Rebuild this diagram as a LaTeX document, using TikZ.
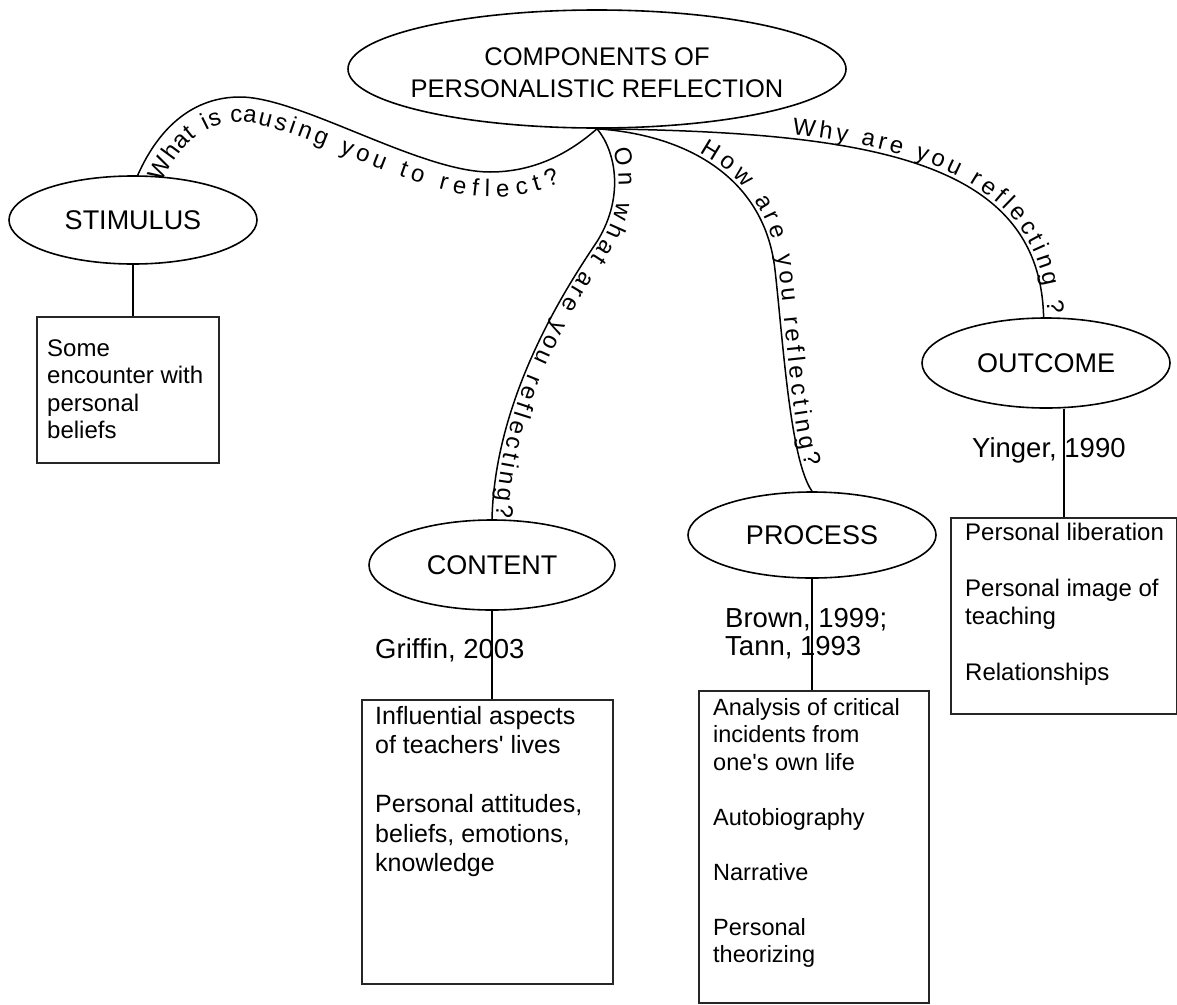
\documentclass[tikz,border=0pt]{standalone}
\usepackage{fontspec}
\setmainfont{Liberation Sans}
\usetikzlibrary{shapes.geometric,decorations.text}

\newcommand\fsz[2]{\fontsize{#1}{#2}\selectfont}
\newcommand\pathlbl{\fsz{24}{24}}

\begin{document}
\begin{tikzpicture}[x=1pt,y=-1pt,
  bubble/.style={ellipse, draw, line width=1.6pt, inner sep=0pt,
                 minimum width=248pt, minimum height=88pt, font=\fsz{27}{32}},
  panel/.style={draw=black!85, line width=1.8pt, inner sep=0pt, anchor=north west},
  note/.style={inner sep=0pt, align=left, anchor=north west},
  cite/.style={inner sep=0pt, align=left, font=\fsz{27.5}{28}},
  link/.style={line width=1.6pt},
  branch/.style={line width=1.5pt, postaction={decorate}},
]
\useasboundingbox (0,0) rectangle (1177,1004);

% central concept
\node[ellipse, draw, line width=1.6pt, inner sep=0pt,
      minimum width=498pt, minimum height=118pt] (top) at (597,69) {};
\node[inner sep=0pt, align=center, font=\fsz{25.5}{32}] (title) at (597,73)
  {COMPONENTS OF\\PERSONALISTIC REFLECTION};

% the four components
\node[bubble] (stim) at (133,220) {STIMULUS};
\node[bubble, minimum width=246pt, minimum height=90pt] (content) at (492,565) {CONTENT};
\node[bubble, minimum height=86pt] (process) at (812,535) {PROCESS};
\node[bubble, minimum height=90pt] (outcome) at (1046,363) {OUTCOME};

% detail panels
\node[panel, minimum width=182pt, minimum height=146pt] (sbox) at (36,316) {};
\node[panel, minimum width=251pt, minimum height=284pt] (cbox) at (361,699) {};
\node[panel, minimum width=230pt, minimum height=312pt] (pbox) at (698,690) {};
\node[panel, minimum width=226pt, minimum height=196pt] (obox) at (950,517) {};

% stems from components to panels
\draw[link] (stim.south) -- (stim.south |- sbox.north);
\draw[link] (content.south) -- (content.south |- cbox.north);
\draw[link] (process.south) -- (process.south |- pbox.north);
\draw[link] (obox.north) -- (obox.north |- outcome.south);

% references
\node[cite, anchor=base west] (griffin) at (375,658) {Griffin, 2003};
\node[cite, anchor=north west] (brown) at (725,608.3) {Brown, 1999;\\Tann, 1993};
\node[cite, anchor=base west] (yinger) at (972,457) {Yinger, 1990};

% panel texts
\node[note, font=\fsz{24}{27.5}] (stext) at (47,339.3)
  {Some\\encounter with\\personal\\beliefs};
\node[note, font=\fsz{25}{29.5}] (ctext) at (375,705.8)
  {Influential aspects\\of teachers\textquotesingle\ lives\\[29.5pt]Personal attitudes,\\beliefs, emotions,\\knowledge};
\node[note, font=\fsz{23.5}{27.5}] (ptext) at (713,697.8)
  {Analysis of critical\\incidents from\\one\textquotesingle s own life\\[27.5pt]Autobiography\\[27.5pt]Narrative\\[27.5pt]Personal\\theorizing};
\node[note, font=\fsz{24}{28}] (otext) at (965,522.5)
  {Personal liberation\\[28pt]Personal image of\\teaching\\[28pt]Relationships};

% labelled branches from the central concept
\draw[branch, decoration={text along path, raise=-25pt,
      text={|\pathlbl|What is causing you to reflect?},
      text align={left indent=5pt, right indent=55pt, fit to path}}]
  (stim.84) .. controls (160,125) and (195,97) .. (240,97)
            .. controls (300,97) and (420,172) .. (490,172)
            .. controls (540,172) and (575,148) .. (top.south);

\draw[branch, decoration={text along path, raise=4pt,
      text={|\pathlbl|On what are you reflecting?},
      text align={left indent=25pt, right indent=2pt, fit to path}}]
  (top.south) .. controls (615,150) and (625,195) .. (598,240)
              .. controls (575,275) and (495,390) .. (content.north);

\draw[branch, decoration={text along path, raise=4pt,
      text={|\pathlbl|How are you reflecting?},
      text align={left indent=105pt, right indent=25pt, fit to path}}]
  (top.south) .. controls (690,135) and (765,180) .. (775,270)
              .. controls (783,340) and (790,460) .. (process.north);

\draw[branch, decoration={text along path, raise=4pt,
      text={|\pathlbl|Why are you reflecting ?},
      text align={left indent=195pt, right indent=3pt, fit to path}}]
  (top.south) .. controls (870,132) and (1040,160) .. (outcome.93);

\end{tikzpicture}
\end{document}
